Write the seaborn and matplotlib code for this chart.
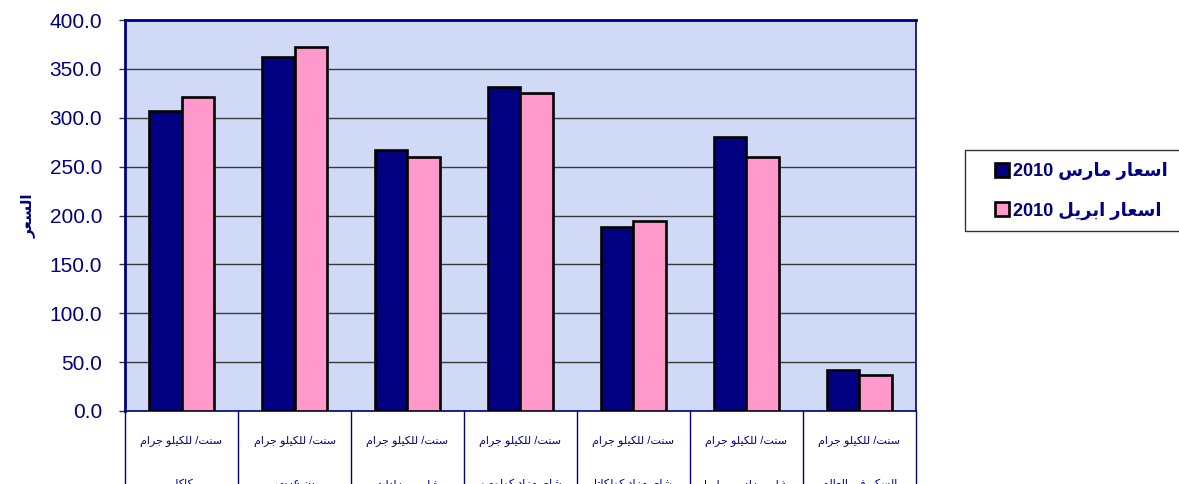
import re
import matplotlib
matplotlib.use("Agg")
import matplotlib.pyplot as plt
import matplotlib.transforms as mtransforms
from matplotlib.patches import Rectangle
import pandas as pd
import seaborn as sns

# values
categories = ["كاكاو", "بن عربي", "شاي - مزادات", "شاي مزاد كولومبو",
              "شاي مزاد كولكاتا", "شاي مزاد مومباسا", "السكر في العالم"]
unit_label = "سنت/ للكيلو جرام"
march_2010 = [307, 362, 267, 331, 188, 280, 42]
april_2010 = [321, 372, 260, 325, 194, 260, 37]
series_names = ["اسعار مارس 2010", "اسعار ابريل 2010"]
y_label = "السعر"
y_ticks = [0, 50, 100, 150, 200, 250, 300, 350, 400]

NAVY = "#000080"
PINK = "#ff99cc"

# minimal arabic shaping: (isolated, final, initial, medial)
FORMS = {
    "ا": (0xFE8D, 0xFE8E, None, None),
    "ب": (0xFE8F, 0xFE90, 0xFE91, 0xFE92),
    "ت": (0xFE95, 0xFE96, 0xFE97, 0xFE98),
    "ج": (0xFE9D, 0xFE9E, 0xFE9F, 0xFEA0),
    "د": (0xFEA9, 0xFEAA, None, None),
    "ر": (0xFEAD, 0xFEAE, None, None),
    "ز": (0xFEAF, 0xFEB0, None, None),
    "س": (0xFEB1, 0xFEB2, 0xFEB3, 0xFEB4),
    "ش": (0xFEB5, 0xFEB6, 0xFEB7, 0xFEB8),
    "ع": (0xFEC9, 0xFECA, 0xFECB, 0xFECC),
    "ف": (0xFED1, 0xFED2, 0xFED3, 0xFED4),
    "ك": (0xFED9, 0xFEDA, 0xFEDB, 0xFEDC),
    "ل": (0xFEDD, 0xFEDE, 0xFEDF, 0xFEE0),
    "م": (0xFEE1, 0xFEE2, 0xFEE3, 0xFEE4),
    "ن": (0xFEE5, 0xFEE6, 0xFEE7, 0xFEE8),
    "و": (0xFEED, 0xFEEE, None, None),
    "ي": (0xFEF1, 0xFEF2, 0xFEF3, 0xFEF4),
}


def ar(text):
    out = []
    for i, c in enumerate(text):
        if c not in FORMS:
            out.append(c)
            continue
        prev = text[i - 1] if i > 0 else ""
        nxt = text[i + 1] if i + 1 < len(text) else ""
        joins_prev = prev in FORMS and FORMS[prev][2] is not None
        joins_next = nxt in FORMS and FORMS[c][2] is not None
        iso, fin, ini, med = FORMS[c]
        if joins_prev and joins_next:
            code = med
        elif joins_prev:
            code = fin
        elif joins_next:
            code = ini
        else:
            code = iso
        out.append(chr(code))
    shaped = "".join(out)
    tokens = re.findall(r"[0-9A-Za-z.]+|[^0-9A-Za-z.]+", shaped)
    vis = [t if re.match(r"[0-9A-Za-z.]", t) else t[::-1] for t in tokens]
    return "".join(vis[::-1])


df = pd.DataFrame({
    "cat": categories * 2,
    "period": [series_names[0]] * len(categories) + [series_names[1]] * len(categories),
    "value": march_2010 + april_2010,
})

sns.set_style("white")
plt.rcParams["font.family"] = ["Liberation Sans", "DejaVu Sans"]

fig = plt.figure(figsize=(11.79, 4.84), dpi=100)
ax = fig.add_axes([125 / 1179, 1 - 411 / 484, 791 / 1179, 391 / 484])
ax.set_facecolor("#d0daf6")

sns.barplot(data=df, x="cat", y="value", hue="period",
            palette=[NAVY, PINK], saturation=1, width=0.58, edgecolor="black",
            linewidth=1.9, ax=ax, zorder=3)

ax.set_ylim(0, 400)
ax.set_xlim(-0.5, len(categories) - 0.5)
ax.set_yticks(y_ticks)
ax.set_yticklabels([f"{v:.1f}" for v in y_ticks], fontsize=15, color=NAVY)
ax.yaxis.grid(True, color="#3a3a3a", linewidth=1, zorder=1)
ax.set_axisbelow(True)
ax.tick_params(axis="y", left=True, length=4.5, width=1, color="#333333", pad=12)

ax.set_xticks(range(len(categories)))
ax.set_xticklabels([ar(unit_label)] * len(categories), fontsize=8, color=NAVY)
ax.tick_params(axis="x", bottom=False, pad=14.5)
ax.set_xlabel("")
ax.set_ylabel(ar(y_label), fontsize=11, fontweight="bold", color=NAVY, labelpad=10)

for side in ["left", "top"]:
    ax.spines[side].set_color(NAVY)
    ax.spines[side].set_linewidth(2)
for side in ["right", "bottom"]:
    ax.spines[side].set_color(NAVY)
    ax.spines[side].set_linewidth(1.2)

# category table below the plot
trans = mtransforms.blended_transform_factory(ax.transData, ax.transAxes)
for b in range(len(categories) + 1):
    ax.plot([b - 0.5, b - 0.5], [0, -0.25], transform=trans, color=NAVY,
            linewidth=1, clip_on=False)
for i, name in enumerate(categories):
    ax.text(i, -0.174, ar(name), transform=trans, ha="center", va="top",
            fontsize=8, color=NAVY, clip_on=False)

# legend box, running past the right edge as in the reference
fig.patches.append(Rectangle((965 / 1179, 1 - 231 / 484), 240 / 1179, 81 / 484,
                             transform=fig.transFigure, facecolor="white",
                             edgecolor="#333333", linewidth=1))
handles, labels = ax.get_legend_handles_labels()
ax.get_legend().remove()
fig.legend(handles, [ar(l) for l in labels], loc="upper left",
           bbox_to_anchor=(995 / 1179, 1 - 162 / 484), frameon=False,
           prop={"weight": "bold", "size": 13}, labelcolor=NAVY,
           handlelength=0.8, handleheight=0.8, handletextpad=0.2,
           labelspacing=1.2, borderpad=0, borderaxespad=0)

fig.savefig("out.png", dpi=100)
